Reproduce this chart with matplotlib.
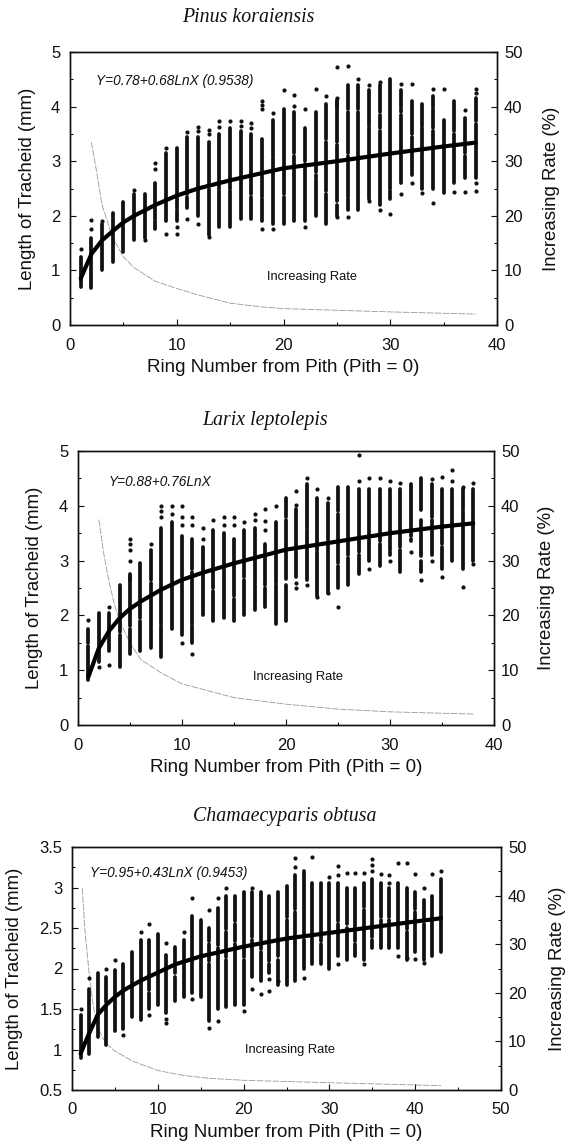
import numpy as np
import matplotlib
matplotlib.use("Agg")
import matplotlib.pyplot as plt
from matplotlib.ticker import MultipleLocator

# Pinus koraiensis
p1_rings = np.arange(1, 39)
p1_low = [0.7, 0.67, 1.0, 1.15, 1.33, 1.55, 1.6, 1.75, 1.9, 1.9, 2.15, 2.0, 1.65, 1.8, 1.8, 1.95, 1.95, 1.9, 1.85, 1.85,
          1.9, 1.9, 2.0, 1.85, 2.0, 2.1, 2.1, 2.3, 2.2, 2.3, 2.6, 2.75, 2.5, 2.5, 2.42, 2.6, 2.7, 2.7]
p1_high = [1.25, 1.6, 1.85, 2.05, 2.25, 2.4, 2.4, 2.6, 3.15, 3.25, 3.45, 3.45, 3.35, 3.5, 3.6, 3.55, 3.5, 3.4, 3.75, 3.95,
           3.9, 3.6, 3.9, 4.05, 4.0, 4.4, 4.4, 4.3, 4.4, 4.5, 4.3, 4.1, 4.05, 4.2, 3.75, 4.1, 3.8, 4.15]
p1_out_x = [1, 2, 2, 3, 6, 7, 8, 8, 9, 9, 10, 10, 11, 11, 12, 12, 12, 13, 13, 13, 14, 14, 15, 16, 16, 17, 17, 18, 18, 18, 18, 19, 19,
            20, 21, 21, 22, 22, 23, 24, 25, 25, 25, 26, 26, 27, 28, 28, 29, 29, 30, 31, 31, 32, 32, 33, 34, 34, 35, 36, 37, 37, 38, 38, 38, 38]
p1_out_y = [1.4, 1.75, 1.92, 1.9, 2.47, 1.55, 2.85, 2.97, 1.67, 3.25, 1.67, 1.8, 1.95, 3.53, 1.85, 3.55, 3.63, 1.62, 3.5, 3.58, 3.62, 3.73, 3.73, 3.65, 3.73, 3.6, 3.7, 1.75, 3.95, 4.03, 4.1, 1.75, 3.88,
            4.3, 4.02, 4.22, 1.8, 3.95, 4.33, 4.2, 1.98, 4.15, 4.72, 1.97, 4.75, 4.5, 2.27, 4.4, 2.1, 4.45, 2.03, 2.4, 4.42, 2.6, 4.42, 2.42, 2.23, 4.32, 4.32, 2.43, 2.43, 3.93, 2.45, 2.6, 4.25, 4.33]
p1_gap_x = [8, 10, 11, 13, 14, 15, 17, 18, 19, 20, 21, 22, 23, 24, 24, 25, 25, 26, 26, 27, 28, 29, 30, 31, 32, 33, 34, 36, 37, 38, 25, 26, 29, 23, 31, 34]
p1_gap_lo = [1.9, 2.1, 2.35, 2.5, 2.45, 2.45, 2.35, 2.3, 3.05, 2.35, 3.1, 2.95, 2.65, 2.4, 3.35, 2.2, 3.3, 2.3, 3.1, 3.9, 3.6, 3.55, 2.45, 3.85, 3.45, 3.6, 3.55, 3.5, 3.1, 3.68, 4.08, 3.9, 3.85, 2.75, 3.95, 3.95]
p1_gap_hi = [1.95, 2.15, 2.4, 2.55, 2.5, 2.5, 2.4, 2.35, 3.1, 2.4, 3.15, 3.0, 2.7, 2.45, 3.4, 2.27, 3.35, 2.35, 3.15, 3.95, 3.65, 3.6, 2.5, 3.9, 3.5, 3.65, 3.6, 3.55, 3.15, 3.73, 4.12, 3.95, 3.9, 2.8, 4.0, 4.0]
p1_fit_x = [1, 2, 3, 4, 5, 6, 8, 10, 12, 15, 20, 25, 30, 35, 38]
p1_fit_y = [0.85, 1.3, 1.55, 1.72, 1.88, 2.0, 2.2, 2.37, 2.5, 2.65, 2.87, 3.0, 3.14, 3.27, 3.34]
p1_rate_x = [2, 2.5, 3, 3.5, 4, 5, 6, 8, 10, 12, 15, 18, 20, 25, 30, 38]
p1_rate_y = [33.5, 28, 22, 19, 16, 12.5, 10.5, 8, 6.7, 5.5, 4, 3.3, 3, 2.7, 2.4, 2]

# Larix leptolepis
p2_rings = np.arange(1, 39)
p2_low = [0.82, 1.15, 1.35, 1.05, 1.3, 1.35, 1.4, 1.25, 1.75, 1.65, 1.5, 2.0, 1.9, 1.95, 1.9, 2.0, 2.1, 2.15, 1.85, 1.9,
          2.7, 2.65, 2.35, 2.4, 2.5, 2.55, 2.75, 3.0, 2.9, 3.1, 2.8, 3.35, 2.8, 3.1, 2.85, 3.0, 2.85, 3.0]
p2_high = [1.75, 2.05, 2.05, 2.55, 2.65, 2.95, 3.2, 3.6, 3.7, 3.45, 3.4, 3.25, 3.55, 3.5, 3.4, 3.55, 3.6, 3.3, 3.7, 4.15,
           3.95, 4.4, 4.15, 4.05, 4.35, 4.35, 4.3, 4.3, 4.3, 4.3, 4.3, 4.4, 4.5, 4.4, 4.3, 4.3, 4.3, 4.3]
p2_out_x = [1, 2, 3, 3, 5, 5, 5, 5, 7, 8, 8, 8, 9, 9, 10, 10, 10, 10, 11, 11, 11, 12, 12, 13, 14, 14, 15, 15, 16, 17, 17, 18, 18, 18,
            19, 21, 21, 21, 21, 22, 22, 23, 23, 24, 24, 25, 27, 27, 28, 28, 29, 30, 30, 31, 32, 33, 34, 34, 35, 35, 36, 36, 37, 37, 38, 38]
p2_out_y = [1.92, 1.05, 1.1, 2.15, 3.0, 3.2, 3.3, 3.4, 3.3, 3.8, 3.9, 4.0, 3.85, 4.0, 1.5, 3.65, 3.8, 4.0, 1.3, 3.65, 3.8, 3.4, 3.6, 3.75, 3.65, 3.8, 3.65, 3.8, 3.7, 3.75, 3.85, 3.55, 3.72, 3.95,
            4.0, 2.5, 2.6, 4.02, 4.27, 2.55, 4.5, 2.33, 4.3, 2.4, 4.15, 2.15, 4.45, 4.92, 2.85, 4.5, 4.5, 3.0, 4.45, 4.42, 3.15, 2.65, 3.0, 4.48, 2.7, 4.52, 4.45, 4.65, 2.52, 4.35, 2.93, 4.42]
p2_gap_x = [1, 4, 5, 5, 6, 7, 8, 9, 10, 11, 11, 13, 14, 15, 16, 17, 18, 19, 20, 20, 21, 22, 23, 24, 25, 25, 26, 27, 28, 29, 30, 31, 32, 33, 33, 34, 35, 37]
p2_gap_lo = [1.45, 1.65, 1.75, 2.7, 1.9, 2.6, 1.8, 2.55, 2.65, 1.8, 2.8, 2.45, 2.85, 2.3, 2.65, 2.55, 2.5, 2.55, 2.55, 3.75, 3.15, 3.55, 3.15, 3.35, 2.9, 3.85, 3.05, 3.1, 3.4, 3.3, 3.15, 3.2, 3.4, 3.0, 3.75, 3.75, 3.25, 3.9]
p2_gap_hi = [1.5, 1.7, 1.8, 2.75, 1.95, 2.65, 1.85, 2.6, 2.7, 1.85, 2.85, 2.5, 2.9, 2.35, 2.7, 2.6, 2.55, 2.6, 2.66, 3.8, 3.2, 3.6, 3.2, 3.4, 2.95, 3.9, 3.1, 3.15, 3.45, 3.35, 3.2, 3.25, 3.45, 3.08, 3.92, 3.8, 3.3, 3.95]
p2_fit_x = [1, 2, 3, 4, 5, 6, 8, 10, 12, 15, 20, 25, 30, 35, 38]
p2_fit_y = [0.88, 1.4, 1.72, 1.95, 2.12, 2.25, 2.47, 2.65, 2.78, 2.95, 3.2, 3.35, 3.5, 3.62, 3.68]
p2_rate_x = [2, 2.5, 3, 3.5, 4, 5, 6, 8, 10, 12, 15, 20, 25, 30, 38]
p2_rate_y = [37.5, 31, 26, 22, 19, 15, 12, 9.5, 7.5, 6.5, 5, 3.8, 2.9, 2.4, 2]

# Chamaecyparis obtusa
p3_rings = np.arange(1, 44)
p3_low = [0.9, 0.95, 1.15, 1.05, 1.23, 1.25, 1.4, 1.37, 1.5, 1.55, 1.45, 1.6, 1.65, 1.7, 1.65, 1.35, 1.5, 1.52, 1.55, 1.55, 1.9,
          1.85, 1.95, 1.8, 1.8, 1.85, 2.0, 2.05, 2.05, 2.0, 2.15, 2.1, 2.15, 2.1, 2.25, 2.25, 2.25, 2.25, 2.1, 2.2, 2.1, 2.15, 2.2]
p3_high = [1.42, 1.75, 1.95, 1.9, 1.98, 2.05, 2.2, 2.35, 2.35, 2.42, 2.17, 2.27, 2.35, 2.65, 2.6, 2.5, 2.75, 2.9, 2.9, 2.95, 2.95,
           2.95, 2.9, 2.95, 3.02, 3.15, 3.2, 3.05, 3.05, 3.05, 3.05, 3.0, 3.0, 3.05, 3.1, 3.05, 3.0, 3.05, 3.0, 2.95, 2.85, 2.9, 3.1]
p3_out_x = [1, 2, 4, 5, 6, 8, 9, 9, 11, 11, 11, 13, 14, 14, 16, 16, 17, 17, 18, 20, 21, 21, 22, 23, 23, 24, 26, 26, 27, 28, 30, 31, 31, 31, 32, 33,
            34, 34, 35, 35, 35, 36, 37, 37, 38, 38, 39, 39, 40, 40, 41, 41, 42, 43]
p3_out_y = [1.5, 1.88, 2.0, 2.1, 1.18, 2.45, 1.42, 2.55, 1.33, 1.38, 2.32, 2.45, 1.62, 2.87, 1.27, 2.72, 1.35, 2.87, 3.0, 1.47, 1.75, 3.0, 1.68, 1.72, 1.87, 1.85, 3.25, 3.37, 1.88, 3.38, 3.13, 2.05, 3.15, 3.27, 3.18, 3.18,
            2.05, 3.18, 3.2, 3.28, 3.35, 3.17, 3.05, 3.15, 2.15, 3.3, 2.13, 3.3, 2.12, 3.17, 2.07, 3.0, 3.17, 3.2]
p3_gap_x = [4, 9, 12, 14, 16, 16, 17, 18, 18, 19, 19, 20, 21, 22, 23, 24, 25, 26, 27, 29, 31, 32, 33, 34, 35, 36, 37, 39, 40, 41]
p3_gap_lo = [1.55, 1.7, 1.9, 2.1, 2.05, 2.3, 2.25, 2.1, 2.45, 2.3, 2.55, 2.1, 2.35, 2.2, 2.05, 2.1, 2.6, 2.7, 2.35, 2.3, 2.55, 2.5, 2.3, 2.72, 2.35, 2.6, 2.6, 2.45, 2.7, 2.55]
p3_gap_hi = [1.59, 1.74, 1.94, 2.14, 2.09, 2.34, 2.29, 2.14, 2.49, 2.34, 2.59, 2.14, 2.39, 2.24, 2.09, 2.16, 2.64, 2.74, 2.39, 2.34, 2.59, 2.55, 2.34, 2.76, 2.39, 2.64, 2.64, 2.49, 2.74, 2.59]
p3_fit_x = [1, 2, 3, 4, 5, 6, 8, 10, 12, 15, 20, 25, 30, 35, 40, 43]
p3_fit_y = [0.95, 1.2, 1.43, 1.55, 1.65, 1.73, 1.85, 1.95, 2.05, 2.15, 2.27, 2.37, 2.44, 2.51, 2.58, 2.62]
p3_rate_x = [1.2, 1.5, 2, 2.5, 3, 3.5, 4, 5, 7, 10, 13, 16, 20, 30, 43]
p3_rate_y = [41.5, 33, 24, 17, 13, 11, 9.5, 8, 6, 4, 3, 2.4, 2, 1.5, 0.9]

W, H = 565, 1145
plt.rcParams["font.family"] = ["Liberation Sans", "DejaVu Sans"]
fig = plt.figure(figsize=(W / 100, H / 100), dpi=100)
INK = "#111111"


def blended(ax):
    # x in figure fraction, y in axes fraction
    return matplotlib.transforms.blended_transform_factory(fig.transFigure, ax.transAxes)


def split_column(ring, low, high, gap_x, gap_lo, gap_hi):
    # cut a column of points where the picture shows white gaps
    gaps = sorted((a, b) for x, a, b in zip(gap_x, gap_lo, gap_hi) if x == ring)
    parts = []
    start = low
    for a, b in gaps:
        parts.append((start, a))
        start = b
    parts.append((start, high))
    return parts


def draw_panel(box, xmax, ylim, yticks, yminor, ticklabels, title, title_xy, rings, low, high, out_x, out_y,
               gap_x, gap_lo, gap_hi, fit_x, fit_y, rate_x, rate_y, eq, eq_xy, rate_xy, ylab_x, rlab_x):
    left, top, right, bottom = box
    ax = fig.add_axes([left / W, 1 - bottom / H, (right - left) / W, (bottom - top) / H])
    ax2 = ax.twinx()

    seg_x, seg_lo, seg_hi = [], [], []
    for r, lo, hi in zip(rings, low, high):
        for a, b in split_column(r, lo, hi, gap_x, gap_lo, gap_hi):
            seg_x.append(r)
            seg_lo.append(a)
            seg_hi.append(b)
    ax.vlines(seg_x, seg_lo, seg_hi, color=INK, lw=2.7, zorder=3, capstyle="round")
    ax.scatter(out_x, out_y, s=9, color=INK, linewidths=0, zorder=3)
    ax.plot(fit_x, fit_y, color="#000000", lw=3.0, zorder=4, solid_capstyle="round")
    ax2.plot(rate_x, rate_y, color="#999999", lw=0.6, ls=(0, (8, 1.5)), zorder=2)
    ax.set_zorder(ax2.get_zorder() + 1)
    ax.patch.set_visible(False)

    ax.set_xlim(0, xmax)
    ax.set_ylim(*ylim)
    ax2.set_ylim(0, 50)
    ax.set_xticks(np.arange(0, xmax + 1, 10))
    ax.xaxis.set_minor_locator(MultipleLocator(5))
    ax.set_yticks(yticks)
    ax.set_yticklabels(ticklabels)
    ax.yaxis.set_minor_locator(MultipleLocator(yminor))
    ax2.set_yticks(np.arange(0, 51, 10))
    ax2.yaxis.set_minor_locator(MultipleLocator(5))

    ax.tick_params(which="major", direction="in", length=4, width=0.8, labelsize=12, colors=INK, pad=7)
    ax.tick_params(which="minor", direction="in", length=2.5, width=0.7)
    ax.tick_params(axis="x", which="major", pad=9)
    ax2.tick_params(which="major", direction="in", length=4, width=0.8, labelsize=12, colors=INK, pad=5)
    ax2.tick_params(which="minor", direction="in", length=2.5, width=0.7)
    for a in (ax, ax2):
        for s in a.spines.values():
            s.set_linewidth(1.0)
            s.set_color(INK)

    ax.set_xlabel("Ring Number from Pith (Pith = 0)", fontsize=13.5, color=INK, labelpad=5)
    ax.set_ylabel("Length of Tracheid (mm)", fontsize=13.4, color=INK)
    ax.yaxis.set_label_coords(ylab_x / W, 0.5, transform=blended(ax))
    ax2.set_ylabel("Increasing Rate (%)", fontsize=13.4, color=INK)
    ax2.yaxis.set_label_coords(rlab_x / W, 0.5, transform=blended(ax2))

    ax.text(eq_xy[0], eq_xy[1], eq, fontsize=9.8, style="italic", color=INK, va="center")
    ax.text(rate_xy[0], rate_xy[1], "Increasing Rate", fontsize=9.3, color=INK, ha="center", va="center")
    fig.text(title_xy[0] / W, 1 - title_xy[1] / H, title, family="Liberation Serif", style="italic",
             fontsize=14.3, color=INK, ha="center", va="center")
    return ax


draw_panel((70, 52, 497, 325), 40, (0, 5), [0, 1, 2, 3, 4, 5], 0.5, ["0", "1", "2", "3", "4", "5"],
           "Pinus koraiensis", (248, 17), p1_rings, p1_low, p1_high, p1_out_x, p1_out_y,
           p1_gap_x, p1_gap_lo, p1_gap_hi, p1_fit_x, p1_fit_y, p1_rate_x, p1_rate_y,
           "Y=0.78+0.68LnX (0.9538)", (2.4, 4.47), (22.7, 0.88), 36, 543)

draw_panel((78, 451, 494, 725), 40, (0, 5), [0, 1, 2, 3, 4, 5], 0.5, ["0", "1", "2", "3", "4", "5"],
           "Larix leptolepis", (265, 421), p2_rings, p2_low, p2_high, p2_out_x, p2_out_y,
           p2_gap_x, p2_gap_lo, p2_gap_hi, p2_fit_x, p2_fit_y, p2_rate_x, p2_rate_y,
           "Y=0.88+0.76LnX", (2.9, 4.43), (21.2, 0.88), 43, 538)

draw_panel((72, 847, 501, 1090), 50, (0.5, 3.5), [0.5, 1, 1.5, 2, 2.5, 3, 3.5], 0.25,
           ["0.5", "1", "1.5", "2", "2.5", "3", "3.5"],
           "Chamaecyparis obtusa", (285, 816), p3_rings, p3_low, p3_high, p3_out_x, p3_out_y,
           p3_gap_x, p3_gap_lo, p3_gap_hi, p3_fit_x, p3_fit_y, p3_rate_x, p3_rate_y,
           "Y=0.95+0.43LnX (0.9453)", (2.1, 3.18), (25.4, 0.99), 23, 549)

fig.savefig("out.png", dpi=100)
